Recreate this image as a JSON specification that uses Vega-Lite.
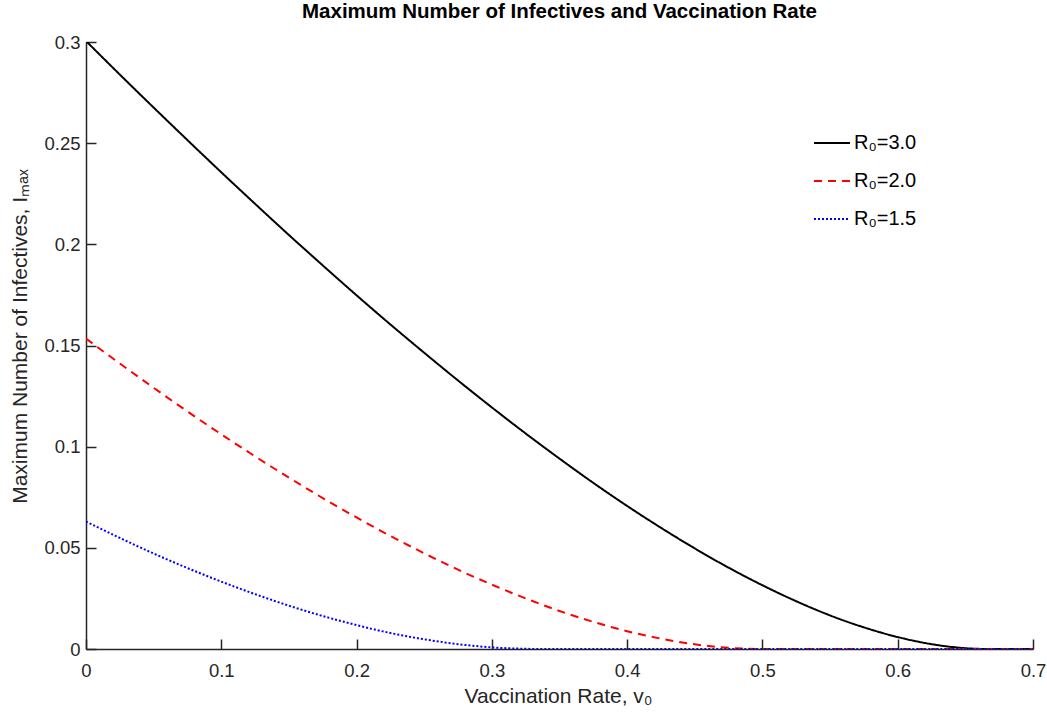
{
  "$schema": "https://vega.github.io/schema/vega-lite/v6.json",
  "autosize": "none",
  "width": 947,
  "height": 607,
  "padding": {"left": 86, "top": 42, "right": 14, "bottom": 66},
  "background": "white",
  "config": {
    "font": "Liberation Sans",
    "view": {"stroke": null},
    "axis": {
      "grid": false,
      "domainColor": "#262626",
      "domainWidth": 1.5,
      "tickColor": "#262626",
      "tickWidth": 1.5,
      "tickSize": -10,
      "labelColor": "#262626",
      "labelFontSize": 18.5,
      "labelFont": "Liberation Sans",
      "titleFont": "Liberation Sans",
      "titleColor": "#262626",
      "titleFontSize": 21,
      "titleFontWeight": "normal"
    }
  },
  "title": {
    "text": "Maximum Number of Infectives and Vaccination Rate",
    "font": "Liberation Sans",
    "fontSize": 20.5,
    "fontWeight": "bold",
    "color": "black",
    "anchor": "middle",
    "frame": "group",
    "offset": 11
  },
  "data": {
    "values": [
      {"v": 0.0, "I": 0.3005, "R": "R₀=3.0"},
      {"v": 0.025, "I": 0.2839, "R": "R₀=3.0"},
      {"v": 0.05, "I": 0.2676, "R": "R₀=3.0"},
      {"v": 0.075, "I": 0.2515, "R": "R₀=3.0"},
      {"v": 0.1, "I": 0.2356, "R": "R₀=3.0"},
      {"v": 0.125, "I": 0.2200, "R": "R₀=3.0"},
      {"v": 0.15, "I": 0.2046, "R": "R₀=3.0"},
      {"v": 0.175, "I": 0.1896, "R": "R₀=3.0"},
      {"v": 0.2, "I": 0.1748, "R": "R₀=3.0"},
      {"v": 0.225, "I": 0.1604, "R": "R₀=3.0"},
      {"v": 0.25, "I": 0.1464, "R": "R₀=3.0"},
      {"v": 0.275, "I": 0.1327, "R": "R₀=3.0"},
      {"v": 0.3, "I": 0.1194, "R": "R₀=3.0"},
      {"v": 0.325, "I": 0.1065, "R": "R₀=3.0"},
      {"v": 0.35, "I": 0.0941, "R": "R₀=3.0"},
      {"v": 0.375, "I": 0.0821, "R": "R₀=3.0"},
      {"v": 0.4, "I": 0.0707, "R": "R₀=3.0"},
      {"v": 0.425, "I": 0.0599, "R": "R₀=3.0"},
      {"v": 0.45, "I": 0.0497, "R": "R₀=3.0"},
      {"v": 0.475, "I": 0.0402, "R": "R₀=3.0"},
      {"v": 0.5, "I": 0.0315, "R": "R₀=3.0"},
      {"v": 0.525, "I": 0.0236, "R": "R₀=3.0"},
      {"v": 0.55, "I": 0.0166, "R": "R₀=3.0"},
      {"v": 0.575, "I": 0.0107, "R": "R₀=3.0"},
      {"v": 0.6, "I": 0.0059, "R": "R₀=3.0"},
      {"v": 0.625, "I": 0.0024, "R": "R₀=3.0"},
      {"v": 0.65, "I": 0.0004, "R": "R₀=3.0"},
      {"v": 0.6667, "I": 0.0, "R": "R₀=3.0"},
      {"v": 0.7, "I": 0.0, "R": "R₀=3.0"},
      {"v": 0.0, "I": 0.1534, "R": "R₀=2.0"},
      {"v": 0.025, "I": 0.1411, "R": "R₀=2.0"},
      {"v": 0.05, "I": 0.1291, "R": "R₀=2.0"},
      {"v": 0.075, "I": 0.1174, "R": "R₀=2.0"},
      {"v": 0.1, "I": 0.1061, "R": "R₀=2.0"},
      {"v": 0.125, "I": 0.0952, "R": "R₀=2.0"},
      {"v": 0.15, "I": 0.0847, "R": "R₀=2.0"},
      {"v": 0.175, "I": 0.0746, "R": "R₀=2.0"},
      {"v": 0.2, "I": 0.0650, "R": "R₀=2.0"},
      {"v": 0.225, "I": 0.0559, "R": "R₀=2.0"},
      {"v": 0.25, "I": 0.0473, "R": "R₀=2.0"},
      {"v": 0.275, "I": 0.0392, "R": "R₀=2.0"},
      {"v": 0.3, "I": 0.0318, "R": "R₀=2.0"},
      {"v": 0.325, "I": 0.0250, "R": "R₀=2.0"},
      {"v": 0.35, "I": 0.0188, "R": "R₀=2.0"},
      {"v": 0.375, "I": 0.0134, "R": "R₀=2.0"},
      {"v": 0.4, "I": 0.0088, "R": "R₀=2.0"},
      {"v": 0.425, "I": 0.0051, "R": "R₀=2.0"},
      {"v": 0.45, "I": 0.0023, "R": "R₀=2.0"},
      {"v": 0.475, "I": 0.0006, "R": "R₀=2.0"},
      {"v": 0.5, "I": 0.0, "R": "R₀=2.0"},
      {"v": 0.7, "I": 0.0, "R": "R₀=2.0"},
      {"v": 0.0, "I": 0.0630, "R": "R₀=1.5"},
      {"v": 0.025, "I": 0.0549, "R": "R₀=1.5"},
      {"v": 0.05, "I": 0.0472, "R": "R₀=1.5"},
      {"v": 0.075, "I": 0.0400, "R": "R₀=1.5"},
      {"v": 0.1, "I": 0.0333, "R": "R₀=1.5"},
      {"v": 0.125, "I": 0.0271, "R": "R₀=1.5"},
      {"v": 0.15, "I": 0.0214, "R": "R₀=1.5"},
      {"v": 0.175, "I": 0.0163, "R": "R₀=1.5"},
      {"v": 0.2, "I": 0.0118, "R": "R₀=1.5"},
      {"v": 0.225, "I": 0.0079, "R": "R₀=1.5"},
      {"v": 0.25, "I": 0.0048, "R": "R₀=1.5"},
      {"v": 0.275, "I": 0.0024, "R": "R₀=1.5"},
      {"v": 0.3, "I": 0.0008, "R": "R₀=1.5"},
      {"v": 0.325, "I": 0.0001, "R": "R₀=1.5"},
      {"v": 0.3333, "I": 0.0, "R": "R₀=1.5"},
      {"v": 0.7, "I": 0.0, "R": "R₀=1.5"}
    ]
  },
  "mark": {"type": "line", "strokeWidth": 2, "interpolate": "monotone", "clip": true},
  "encoding": {
    "x": {
      "field": "v",
      "type": "quantitative",
      "scale": {"domain": [0, 0.7], "nice": false, "zero": false},
      "axis": {
        "values": [0, 0.1, 0.2, 0.3, 0.4, 0.5, 0.6, 0.7],
        "format": "~g",
        "labelPadding": 22,
        "labelFlush": false,
        "title": "Vaccination Rate, v₀",
        "titleX": 472,
        "titleY": 53,
        "titleBaseline": "alphabetic",
        "titleAlign": "center"
      }
    },
    "y": {
      "field": "I",
      "type": "quantitative",
      "scale": {"domain": [0, 0.3], "nice": false, "zero": false},
      "axis": {
        "values": [0, 0.05, 0.1, 0.15, 0.2, 0.25, 0.3],
        "format": "~g",
        "labelPadding": 16,
        "labelFlush": false,
        "title": "Maximum Number of Infectives, Iₘₐₓ",
        "titleX": -60,
        "titleY": 294,
        "titleAngle": -90,
        "titleBaseline": "alphabetic",
        "titleAlign": "center"
      }
    },
    "color": {
      "field": "R",
      "type": "nominal",
      "sort": null,
      "scale": {"domain": ["R₀=3.0", "R₀=2.0", "R₀=1.5"], "range": ["#000000", "#ff0000", "#0000ff"]},
      "legend": {
        "title": null,
        "orient": "none",
        "legendX": 727,
        "legendY": 82,
        "symbolType": "stroke",
        "symbolSize": 1296,
        "symbolStrokeWidth": 2,
        "labelFontSize": 20,
        "labelFont": "Liberation Sans",
        "labelColor": "black",
        "labelOffset": 3,
        "rowPadding": 9,
        "padding": 0
      }
    },
    "strokeDash": {
      "field": "R",
      "type": "nominal",
      "sort": null,
      "scale": {"domain": ["R₀=3.0", "R₀=2.0", "R₀=1.5"], "range": [[1, 0], [8, 6], [2, 2]]},
      "legend": {
        "title": null,
        "orient": "none",
        "legendX": 727,
        "legendY": 82,
        "symbolType": "stroke",
        "symbolSize": 1296,
        "symbolStrokeWidth": 2,
        "labelFontSize": 20,
        "labelFont": "Liberation Sans",
        "labelColor": "black",
        "labelOffset": 3,
        "rowPadding": 9,
        "padding": 0
      }
    }
  }
}
